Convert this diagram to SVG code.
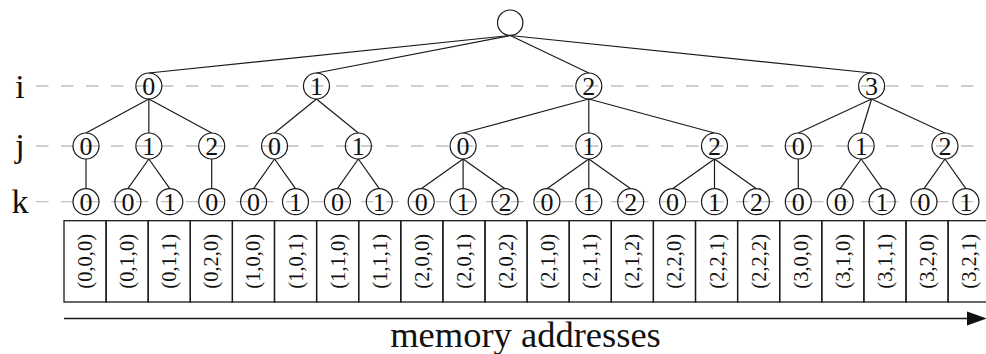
<svg xmlns="http://www.w3.org/2000/svg" width="986" height="354" viewBox="0 0 986 354">
  <style>
    .guide { stroke: #c0c0c0; stroke-width: 1.3; stroke-dasharray: 12.5 12.5; fill: none; }
    .edge { stroke: #1a1a1a; stroke-width: 1.2; fill: none; }
    .node circle { fill: none; stroke: #1a1a1a; stroke-width: 1.2; }
    .node text { font-family: "Liberation Serif", "Times New Roman", serif; font-size: 26px; text-anchor: middle; fill: #111; }
    .level { font-family: "Liberation Serif", "Times New Roman", serif; font-size: 34px; text-anchor: middle; fill: #111; }
    .cell rect { fill: none; stroke: #1a1a1a; stroke-width: 1.3; }
    .cell text { font-family: "Liberation Serif", "Times New Roman", serif; font-size: 20.5px; text-anchor: middle; dominant-baseline: central; fill: #111; }
    .caption { font-family: "Liberation Serif", "Times New Roman", serif; font-size: 36.5px; text-anchor: middle; fill: #111; }
  </style>

  <!-- level guides -->
  <g id="guides">
    <line class="guide" x1="36" y1="86" x2="986" y2="86"/>
    <line class="guide" x1="36" y1="146" x2="986" y2="146"/>
    <line class="guide" x1="36" y1="201.7" x2="986" y2="201.7"/>
  </g>

  <!-- level labels -->
  <g id="labels">
    <text class="level" x="20" y="98">i</text>
    <text class="level" x="20" y="157">j</text>
    <text class="level" x="20" y="213">k</text>
  </g>

  <!-- tree connectors: parent south to child north -->
  <g id="connectors">
    <line class="edge" x1="510.2" y1="35.5" x2="148.85" y2="73"/>
    <line class="edge" x1="510.2" y1="35.5" x2="316.45" y2="73"/>
    <line class="edge" x1="510.2" y1="35.5" x2="588.8" y2="73"/>
    <line class="edge" x1="510.2" y1="35.5" x2="871.6" y2="73"/>

    <line class="edge" x1="148.85" y1="99" x2="86" y2="133"/>
    <line class="edge" x1="148.85" y1="99" x2="148.85" y2="133"/>
    <line class="edge" x1="148.85" y1="99" x2="211.7" y2="133"/>
    <line class="edge" x1="316.45" y1="99" x2="274.55" y2="133"/>
    <line class="edge" x1="316.45" y1="99" x2="358.35" y2="133"/>
    <line class="edge" x1="588.8" y1="99" x2="463.1" y2="133"/>
    <line class="edge" x1="588.8" y1="99" x2="588.8" y2="133"/>
    <line class="edge" x1="588.8" y1="99" x2="714.5" y2="133"/>
    <line class="edge" x1="871.6" y1="99" x2="798.3" y2="133"/>
    <line class="edge" x1="871.6" y1="99" x2="861.15" y2="133"/>
    <line class="edge" x1="871.6" y1="99" x2="944.95" y2="133"/>

    <line class="edge" x1="86" y1="159" x2="86" y2="188.7"/>
    <line class="edge" x1="148.85" y1="159" x2="127.9" y2="188.7"/>
    <line class="edge" x1="148.85" y1="159" x2="169.8" y2="188.7"/>
    <line class="edge" x1="211.7" y1="159" x2="211.7" y2="188.7"/>
    <line class="edge" x1="274.55" y1="159" x2="253.6" y2="188.7"/>
    <line class="edge" x1="274.55" y1="159" x2="295.5" y2="188.7"/>
    <line class="edge" x1="358.35" y1="159" x2="337.4" y2="188.7"/>
    <line class="edge" x1="358.35" y1="159" x2="379.3" y2="188.7"/>
    <line class="edge" x1="463.1" y1="159" x2="421.2" y2="188.7"/>
    <line class="edge" x1="463.1" y1="159" x2="463.1" y2="188.7"/>
    <line class="edge" x1="463.1" y1="159" x2="505" y2="188.7"/>
    <line class="edge" x1="588.8" y1="159" x2="546.9" y2="188.7"/>
    <line class="edge" x1="588.8" y1="159" x2="588.8" y2="188.7"/>
    <line class="edge" x1="588.8" y1="159" x2="630.7" y2="188.7"/>
    <line class="edge" x1="714.5" y1="159" x2="672.6" y2="188.7"/>
    <line class="edge" x1="714.5" y1="159" x2="714.5" y2="188.7"/>
    <line class="edge" x1="714.5" y1="159" x2="756.4" y2="188.7"/>
    <line class="edge" x1="798.3" y1="159" x2="798.3" y2="188.7"/>
    <line class="edge" x1="861.15" y1="159" x2="840.2" y2="188.7"/>
    <line class="edge" x1="861.15" y1="159" x2="882.1" y2="188.7"/>
    <line class="edge" x1="944.95" y1="159" x2="924" y2="188.7"/>
    <line class="edge" x1="944.95" y1="159" x2="965.9" y2="188.7"/>
  </g>

  <!-- root -->
  <g id="root" class="node"><circle cx="510.2" cy="22.7" r="12.7"/></g>

  <!-- i level -->
  <g id="i0" class="node"><circle cx="148.85" cy="86" r="13"/><text x="148.85" y="95">0</text></g>
  <g id="i1" class="node"><circle cx="316.45" cy="86" r="13"/><text x="316.45" y="95">1</text></g>
  <g id="i2" class="node"><circle cx="588.8" cy="86" r="13"/><text x="588.8" y="95">2</text></g>
  <g id="i3" class="node"><circle cx="871.6" cy="86" r="13"/><text x="871.6" y="95">3</text></g>

  <!-- j level -->
  <g id="j0-0" class="node"><circle cx="86" cy="146" r="13"/><text x="86" y="155">0</text></g>
  <g id="j0-1" class="node"><circle cx="148.85" cy="146" r="13"/><text x="148.85" y="155">1</text></g>
  <g id="j0-2" class="node"><circle cx="211.7" cy="146" r="13"/><text x="211.7" y="155">2</text></g>
  <g id="j1-0" class="node"><circle cx="274.55" cy="146" r="13"/><text x="274.55" y="155">0</text></g>
  <g id="j1-1" class="node"><circle cx="358.35" cy="146" r="13"/><text x="358.35" y="155">1</text></g>
  <g id="j2-0" class="node"><circle cx="463.1" cy="146" r="13"/><text x="463.1" y="155">0</text></g>
  <g id="j2-1" class="node"><circle cx="588.8" cy="146" r="13"/><text x="588.8" y="155">1</text></g>
  <g id="j2-2" class="node"><circle cx="714.5" cy="146" r="13"/><text x="714.5" y="155">2</text></g>
  <g id="j3-0" class="node"><circle cx="798.3" cy="146" r="13"/><text x="798.3" y="155">0</text></g>
  <g id="j3-1" class="node"><circle cx="861.15" cy="146" r="13"/><text x="861.15" y="155">1</text></g>
  <g id="j3-2" class="node"><circle cx="944.95" cy="146" r="13"/><text x="944.95" y="155">2</text></g>

  <!-- k level -->
  <g id="k0-0-0" class="node"><circle cx="86" cy="201.7" r="13"/><text x="86" y="210.7">0</text></g>
  <g id="k0-1-0" class="node"><circle cx="127.9" cy="201.7" r="13"/><text x="127.9" y="210.7">0</text></g>
  <g id="k0-1-1" class="node"><circle cx="169.8" cy="201.7" r="13"/><text x="169.8" y="210.7">1</text></g>
  <g id="k0-2-0" class="node"><circle cx="211.7" cy="201.7" r="13"/><text x="211.7" y="210.7">0</text></g>
  <g id="k1-0-0" class="node"><circle cx="253.6" cy="201.7" r="13"/><text x="253.6" y="210.7">0</text></g>
  <g id="k1-0-1" class="node"><circle cx="295.5" cy="201.7" r="13"/><text x="295.5" y="210.7">1</text></g>
  <g id="k1-1-0" class="node"><circle cx="337.4" cy="201.7" r="13"/><text x="337.4" y="210.7">0</text></g>
  <g id="k1-1-1" class="node"><circle cx="379.3" cy="201.7" r="13"/><text x="379.3" y="210.7">1</text></g>
  <g id="k2-0-0" class="node"><circle cx="421.2" cy="201.7" r="13"/><text x="421.2" y="210.7">0</text></g>
  <g id="k2-0-1" class="node"><circle cx="463.1" cy="201.7" r="13"/><text x="463.1" y="210.7">1</text></g>
  <g id="k2-0-2" class="node"><circle cx="505" cy="201.7" r="13"/><text x="505" y="210.7">2</text></g>
  <g id="k2-1-0" class="node"><circle cx="546.9" cy="201.7" r="13"/><text x="546.9" y="210.7">0</text></g>
  <g id="k2-1-1" class="node"><circle cx="588.8" cy="201.7" r="13"/><text x="588.8" y="210.7">1</text></g>
  <g id="k2-1-2" class="node"><circle cx="630.7" cy="201.7" r="13"/><text x="630.7" y="210.7">2</text></g>
  <g id="k2-2-0" class="node"><circle cx="672.6" cy="201.7" r="13"/><text x="672.6" y="210.7">0</text></g>
  <g id="k2-2-1" class="node"><circle cx="714.5" cy="201.7" r="13"/><text x="714.5" y="210.7">1</text></g>
  <g id="k2-2-2" class="node"><circle cx="756.4" cy="201.7" r="13"/><text x="756.4" y="210.7">2</text></g>
  <g id="k3-0-0" class="node"><circle cx="798.3" cy="201.7" r="13"/><text x="798.3" y="210.7">0</text></g>
  <g id="k3-1-0" class="node"><circle cx="840.2" cy="201.7" r="13"/><text x="840.2" y="210.7">0</text></g>
  <g id="k3-1-1" class="node"><circle cx="882.1" cy="201.7" r="13"/><text x="882.1" y="210.7">1</text></g>
  <g id="k3-2-0" class="node"><circle cx="924" cy="201.7" r="13"/><text x="924" y="210.7">0</text></g>
  <g id="k3-2-1" class="node"><circle cx="965.9" cy="201.7" r="13"/><text x="965.9" y="210.7">1</text></g>

  <!-- memory cells -->
  <g id="memory">
    <g class="cell"><rect x="64" y="220.7" width="42.1" height="81.3"/><text transform="translate(85.05 261.3) rotate(-90)">(0,0,0)</text></g>
    <g class="cell"><rect x="106.1" y="220.7" width="42.1" height="81.3"/><text transform="translate(127.15 261.3) rotate(-90)">(0,1,0)</text></g>
    <g class="cell"><rect x="148.2" y="220.7" width="42.1" height="81.3"/><text transform="translate(169.25 261.3) rotate(-90)">(0,1,1)</text></g>
    <g class="cell"><rect x="190.3" y="220.7" width="42.1" height="81.3"/><text transform="translate(211.35 261.3) rotate(-90)">(0,2,0)</text></g>
    <g class="cell"><rect x="232.4" y="220.7" width="42.1" height="81.3"/><text transform="translate(253.45 261.3) rotate(-90)">(1,0,0)</text></g>
    <g class="cell"><rect x="274.5" y="220.7" width="42.1" height="81.3"/><text transform="translate(295.55 261.3) rotate(-90)">(1,0,1)</text></g>
    <g class="cell"><rect x="316.6" y="220.7" width="42.1" height="81.3"/><text transform="translate(337.65 261.3) rotate(-90)">(1,1,0)</text></g>
    <g class="cell"><rect x="358.7" y="220.7" width="42.1" height="81.3"/><text transform="translate(379.75 261.3) rotate(-90)">(1,1,1)</text></g>
    <g class="cell"><rect x="400.8" y="220.7" width="42.1" height="81.3"/><text transform="translate(421.85 261.3) rotate(-90)">(2,0,0)</text></g>
    <g class="cell"><rect x="442.9" y="220.7" width="42.1" height="81.3"/><text transform="translate(463.95 261.3) rotate(-90)">(2,0,1)</text></g>
    <g class="cell"><rect x="485" y="220.7" width="42.1" height="81.3"/><text transform="translate(506.05 261.3) rotate(-90)">(2,0,2)</text></g>
    <g class="cell"><rect x="527.1" y="220.7" width="42.1" height="81.3"/><text transform="translate(548.15 261.3) rotate(-90)">(2,1,0)</text></g>
    <g class="cell"><rect x="569.2" y="220.7" width="42.1" height="81.3"/><text transform="translate(590.25 261.3) rotate(-90)">(2,1,1)</text></g>
    <g class="cell"><rect x="611.3" y="220.7" width="42.1" height="81.3"/><text transform="translate(632.35 261.3) rotate(-90)">(2,1,2)</text></g>
    <g class="cell"><rect x="653.4" y="220.7" width="42.1" height="81.3"/><text transform="translate(674.45 261.3) rotate(-90)">(2,2,0)</text></g>
    <g class="cell"><rect x="695.5" y="220.7" width="42.1" height="81.3"/><text transform="translate(716.55 261.3) rotate(-90)">(2,2,1)</text></g>
    <g class="cell"><rect x="737.6" y="220.7" width="42.1" height="81.3"/><text transform="translate(758.65 261.3) rotate(-90)">(2,2,2)</text></g>
    <g class="cell"><rect x="779.7" y="220.7" width="42.1" height="81.3"/><text transform="translate(800.75 261.3) rotate(-90)">(3,0,0)</text></g>
    <g class="cell"><rect x="821.8" y="220.7" width="42.1" height="81.3"/><text transform="translate(842.85 261.3) rotate(-90)">(3,1,0)</text></g>
    <g class="cell"><rect x="863.9" y="220.7" width="42.1" height="81.3"/><text transform="translate(884.95 261.3) rotate(-90)">(3,1,1)</text></g>
    <g class="cell"><rect x="906" y="220.7" width="42.1" height="81.3"/><text transform="translate(927.05 261.3) rotate(-90)">(3,2,0)</text></g>
    <g class="cell"><rect x="948.1" y="220.7" width="42.1" height="81.3"/><text transform="translate(969.15 261.3) rotate(-90)">(3,2,1)</text></g>
  </g>

  <!-- address axis -->
  <g id="axis">
    <line x1="64" y1="318.5" x2="970" y2="318.5" stroke="#1a1a1a" stroke-width="1.3"/>
    <polygon points="967,311.5 987,318.5 967,325.5" fill="#111"/>
    <text class="caption" x="525.5" y="347">memory addresses</text>
  </g>
</svg>
